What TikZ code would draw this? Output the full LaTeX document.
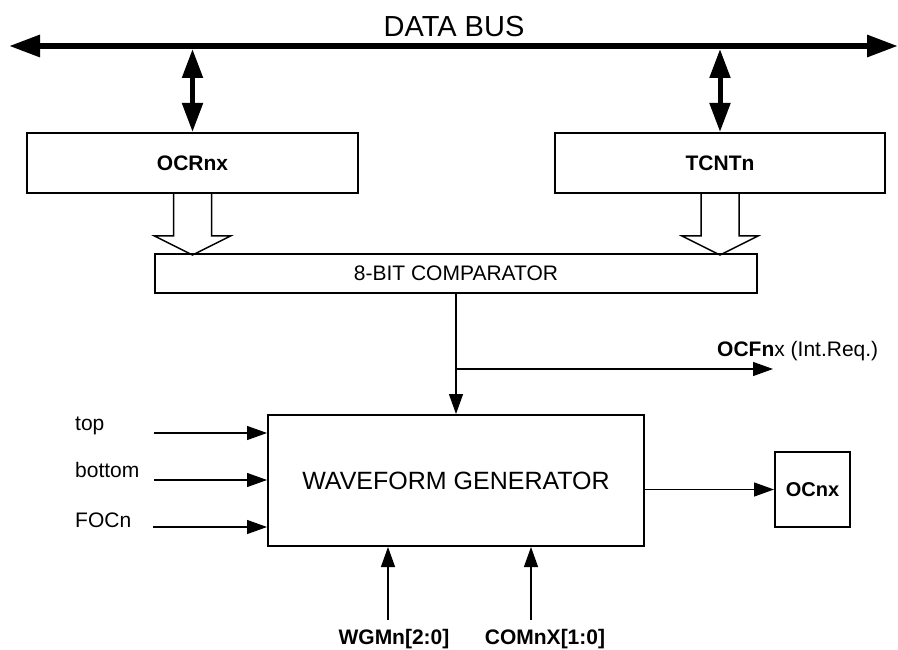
\documentclass[tikz,border=0pt]{standalone}
\usepackage{fontspec}
\setmainfont{Liberation Sans}
\usetikzlibrary{arrows.meta}

\begin{document}
\begin{tikzpicture}[x=1pt,y=-1pt,
  blk/.style={draw,line width=2pt,inner sep=0pt,font=\fontsize{21}{25}\selectfont},
  sig/.style={line width=1.3pt,-{Triangle[length=20pt,width=14pt]}},
  bus/.style={line width=6pt,{Triangle[length=31pt,width=21pt]}-{Triangle[length=31pt,width=21pt]}},
  busport/.style={line width=5pt,{Triangle[length=29pt,width=20pt]}-{Triangle[length=29pt,width=20pt]}},
  hollow/.style={line width=1.5pt},
  lbl/.style={font=\fontsize{21}{25}\selectfont,inner sep=0pt}]
\useasboundingbox (0,0) rectangle (898,650);

% data bus
\coordinate (busL) at (9,46);
\coordinate (busR) at (898,46);
\coordinate (busbot) at (0,49);
\draw[bus] (busL) -- (busR);
\node[lbl,anchor=base,font=\fontsize{29}{33}\selectfont] (buslbl) at (454,37) {DATA BUS};

% registers
\node[blk,minimum width=331pt,minimum height=60pt,font=\fontsize{21}{25}\selectfont\bfseries] (ocr) at (192.5,163) {OCRnx};
\node[blk,minimum width=330pt,minimum height=60pt,font=\fontsize{21}{25}\selectfont\bfseries] (tcnt) at (720,163) {TCNTn};
\draw[busport] (ocr.north |- busbot) -- (ocr.north);
\draw[busport] (tcnt.north |- busbot) -- (tcnt.north);

% comparator
\node[blk,minimum width=602pt,minimum height=39pt] (cmp) at (456,273.5) {8-BIT COMPARATOR};
\draw[hollow,shift={(ocr.south)}] (-19,0) -- (-19,42) -- (-38,42) -- (0,61) -- (38,42) -- (19,42) -- (19,0);
\draw[hollow,shift={(tcnt.south)}] (-19,0) -- (-19,42) -- (-38,42) -- (0,61) -- (38,42) -- (19,42) -- (19,0);

% waveform generator
\node[blk,minimum width=376pt,minimum height=131pt,font=\fontsize{25}{30}\selectfont] (wg) at (456,480.5) {WAVEFORM GENERATOR};
\node[blk,minimum width=75pt,minimum height=75pt,font=\fontsize{20}{24}\selectfont\bfseries] (ocnx) at (812.5,489.5) {OCnx};

\draw[sig] (cmp.south) -- (wg.north);
\coordinate (br) at (456,369);
\coordinate (ocf) at (773,369);
\draw[sig] (br) -- (ocf);
\node[lbl,anchor=base west] (ocflbl) at (717,356) {\textbf{OCFn}x (Int.Req.)};
\draw[sig] (wg.east |- ocnx.west) -- (ocnx.west);

% inputs
\node[lbl,anchor=base west] (ltop) at (75,430) {top};
\node[lbl,anchor=base west] (lbot) at (75,477) {bottom};
\node[lbl,anchor=base west] (lfoc) at (75,527) {FOCn};
\coordinate (intop) at (154,433);
\coordinate (inbot) at (154,480);
\coordinate (infoc) at (153,527);
\draw[sig] (intop) -- (intop -| wg.west);
\draw[sig] (inbot) -- (inbot -| wg.west);
\draw[sig] (infoc) -- (infoc -| wg.west);

\node[lbl,anchor=base,font=\fontsize{21}{25}\selectfont\bfseries] (wgm) at (394,644) {WGMn[2:0]};
\node[lbl,anchor=base,font=\fontsize{21}{25}\selectfont\bfseries] (com) at (545,644) {COMnX[1:0]};
\coordinate (wgmin) at (388,620);
\coordinate (comin) at (531,620);
\draw[sig] (wgmin) -- (wgmin |- wg.south);
\draw[sig] (comin) -- (comin |- wg.south);
\end{tikzpicture}
\end{document}
